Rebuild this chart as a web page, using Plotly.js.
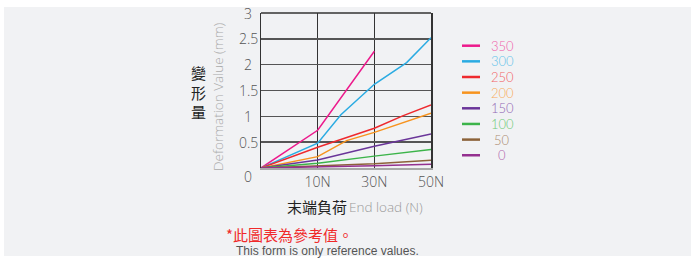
<!DOCTYPE html>
<html><head><meta charset="utf-8">
<script src="https://cdn.plot.ly/plotly-3.0.1.min.js"></script>
<style>
html,body{margin:0;padding:0;background:#fff;}
#bg{position:absolute;left:4px;top:7px;width:687px;height:249px;background:#f1f2f4;}
#chart{position:absolute;left:0;top:0;width:694px;height:261px;}
</style></head>
<body><div id="bg"></div><div id="chart"></div>
<script>
// Data
const xTickVals = [1, 2, 3];
const xTickText = ['10N', '30N', '50N'];
const yTickVals = [0, 0.5, 1, 1.5, 2, 2.5, 3];
const yTickText = ['0', '0.5', '1', '1.5', '2', '2.5', '3'];

const seriesNames = ['350', '300', '250', '200', '150', '100', '50', '0'];
const x350 = [0, 1, 2];            const y350 = [0, 0.73, 2.26];
const x300 = [0, 1, 1.41, 2, 2.57, 3]; const y300 = [0, 0.48, 1.03, 1.62, 2.04, 2.52];
const x250 = [0, 1, 2, 2.5, 3];     const y250 = [0, 0.40, 0.77, 1.01, 1.22];
const x200 = [0, 1, 1.51, 2, 3];    const y200 = [0, 0.22, 0.53, 0.69, 1.06];
const x150 = [0, 1, 2, 3];          const y150 = [0, 0.155, 0.42, 0.66];
const x100 = [0, 1, 2, 3];          const y100 = [0, 0.09, 0.23, 0.36];
const x50  = [0, 1, 2, 3];          const y50  = [0, 0.04, 0.08, 0.15];
const x0   = [0, 1, 2, 3];          const y0   = [0, 0.02, 0.045, 0.075];

const seriesX = [x350, x300, x250, x200, x150, x100, x50, x0];
const seriesY = [y350, y300, y250, y200, y150, y100, y50, y0];
const lineColors = ['#ec1a8c', '#2aabe2', '#ee2a2e', '#f7931e', '#6a3599', '#3cb44a', '#8c6239', '#94308f'];
const textColors = ['#f061aa', '#66c3ea', '#f26468', '#f8ac5c', '#9168b4', '#6fca78', '#ab8b70', '#b067ad'];

// Layout geometry helpers
const W = 694, H = 261, L = 261, R = 263, T = 13, B = 93;
const PW = W - L - R, PH = H - T - B;
const px = v => (v - L) / PW;
const py = v => (H - B - v) / PH;

const traces = seriesNames.map((n, i) => ({
  type: 'scatter', mode: 'lines', name: n,
  x: seriesX[i], y: seriesY[i],
  line: {color: lineColors[i], width: 1.5},
  hoverinfo: 'skip', showlegend: false
}));

const lightFam = '"Open Sans", Lato, sans-serif';
const tickFont = {family: lightFam, size: 14, color: '#555', weight: 300};

const annotations = [];
yTickVals.forEach((v, i) => {
  annotations.push({xref: 'paper', yref: 'y', x: px(248), y: v, text: yTickText[i],
    showarrow: false, xanchor: 'center', yanchor: 'middle', font: tickFont,
    yshift: v === 0 ? -8 : 0});
});
// legend: swatches + coloured labels
const shapes = [];
const legTop = 45.7, legStep = 15.65;
seriesNames.forEach((n, i) => {
  const yy = legTop + i * legStep;
  shapes.push({type: 'line', xref: 'paper', yref: 'paper', x0: px(462), x1: px(480), y0: py(yy), y1: py(yy),
    line: {color: lineColors[i], width: 2.5}});
  annotations.push({xref: 'paper', yref: 'paper', x: px(502), y: py(yy), text: n, showarrow: false,
    xanchor: 'center', yanchor: 'middle', borderpad: 0,
    font: {family: 'Lato, "Open Sans", sans-serif', size: 13, color: textColors[i], weight: 300}});
});

// top frame line
shapes.push({type: 'line', xref: 'paper', yref: 'paper', x0: 0, x1: 1, y0: 1, y1: 1, line: {color: '#333', width: 1.5}});

// axis titles
const cjk = '"Noto Sans CJK TC", "Noto Sans CJK SC", sans-serif';
annotations.push({xref: 'paper', yref: 'paper', x: px(198), y: py(92), text: '變<br>形<br>量', showarrow: false,
  xanchor: 'center', yanchor: 'middle', font: {family: cjk, size: 15, color: '#222'}});
annotations.push({xref: 'paper', yref: 'paper', x: px(218), y: py(97), text: 'Deformation Value (mm)', showarrow: false,
  textangle: -90, xanchor: 'center', yanchor: 'middle', font: {family: lightFam, size: 13.5, color: '#aaa', weight: 300}});
annotations.push({xref: 'paper', yref: 'paper', x: px(285), y: py(206), text: '末端負荷', showarrow: false,
  xanchor: 'left', yanchor: 'middle', font: {family: cjk, size: 15, color: '#222'}});
annotations.push({xref: 'paper', yref: 'paper', x: px(347), y: py(207), text: 'End load (N)', showarrow: false,
  xanchor: 'left', yanchor: 'middle', font: {family: lightFam, size: 13.5, color: '#999', weight: 300}});
annotations.push({xref: 'paper', yref: 'paper', x: px(224), y: py(234), text: '*此圖表為參考值。', showarrow: false,
  xanchor: 'left', yanchor: 'middle', font: {family: cjk, size: 15, color: '#f02a2a'}});
annotations.push({xref: 'paper', yref: 'paper', x: px(234), y: py(251.5), text: 'This form is only reference values.', showarrow: false,
  xanchor: 'left', yanchor: 'middle', font: {family: '"Liberation Sans", Arial, sans-serif', size: 12, color: '#555'}});

const layout = {
  width: W, height: H,
  margin: {l: L, r: R, t: T, b: B, pad: 0},
  paper_bgcolor: 'rgba(0,0,0,0)', plot_bgcolor: 'rgba(0,0,0,0)',
  showlegend: false,
  xaxis: {range: [0, 3], tickvals: xTickVals, ticktext: xTickText, tickfont: tickFont,
    showgrid: true, gridcolor: '#333', gridwidth: 1.5, zeroline: false,
    showline: true, linecolor: '#a8a8a8', linewidth: 2, ticks: '', fixedrange: true},
  yaxis: {range: [0, 3], tickvals: [0.5, 1, 1.5, 2, 2.5], showticklabels: false,
    showgrid: true, gridcolor: '#555', gridwidth: 1.5, zeroline: false,
    showline: true, mirror: true, linecolor: '#333', linewidth: 1.5, ticks: '', fixedrange: true},
  shapes: shapes, annotations: annotations
};
Plotly.newPlot('chart', traces, layout, {staticPlot: true, displayModeBar: false});
</script></body></html>
